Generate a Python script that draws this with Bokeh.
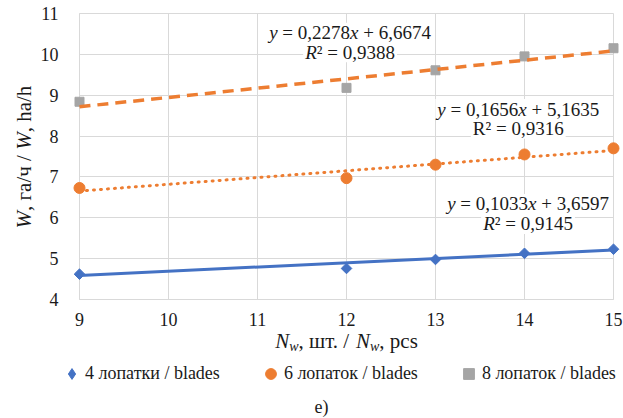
import math
from bokeh.plotting import figure
from bokeh.models import Range1d, FixedTicker, Label, Legend, LegendItem, BoxAnnotation
from bokeh.layouts import row, column
from bokeh.embed import file_html
from bokeh.resources import INLINE

# ---- data ----
x_blades = [9, 12, 13, 14, 15]
w_4 = [4.62, 4.76, 4.98, 5.13, 5.23]
w_6 = [6.73, 6.97, 7.30, 7.55, 7.70]
w_8 = [8.84, 9.18, 9.61, 9.95, 10.15]
series_names = ["4 лопатки / blades", "6 лопаток / blades", "8 лопаток / blades"]
trend_slope = [0.1033, 0.1656, 0.2278]
trend_intercept = [3.6597, 5.1635, 6.6674]
trend_r2 = [0.9145, 0.9316, 0.9388]
x_ticks = [9, 10, 11, 12, 13, 14, 15]
y_ticks = [4, 5, 6, 7, 8, 9, 10, 11]
caption = "e)"

FONT = "Liberation Serif"
TXT = "#1a1a1a"
BLUE, ORANGE, GRAY, GRID = "#4472C4", "#ED7D31", "#A5A5A5", "#D9D9D9"

TOTAL_W, TOTAL_H = 623, 418
LEFT_W = 35
MAIN_W, MAIN_H = TOTAL_W - LEFT_W, 328
BOT_H = TOTAL_H - MAIN_H
BL, BR, BT, BB = 44, 10, 13, 29
PX_X = (MAIN_W - BL - BR) / (x_ticks[-1] - x_ticks[0])
PX_Y = (MAIN_H - BT - BB) / (y_ticks[-1] - y_ticks[0])


def no_align(f):
    if "frame_align" in type(f).properties():
        f.frame_align = False
    return f


p = figure(width=MAIN_W, height=MAIN_H, output_backend="svg", toolbar_location=None,
           x_range=Range1d(x_ticks[0], x_ticks[-1]), y_range=Range1d(y_ticks[0], y_ticks[-1]),
           min_border_left=BL, min_border_right=BR, min_border_top=BT, min_border_bottom=BB)
p.background_fill_color = "white"
p.border_fill_color = "white"
p.outline_line_color = GRID
no_align(p)

p.xaxis.ticker = FixedTicker(ticks=x_ticks)
p.yaxis.ticker = FixedTicker(ticks=y_ticks)
p.xgrid.ticker = FixedTicker(ticks=x_ticks)
p.ygrid.ticker = FixedTicker(ticks=y_ticks)
p.grid.grid_line_color = GRID
for ax in (p.xaxis[0], p.yaxis[0]):
    ax.axis_line_color = GRID
    ax.major_tick_line_color = None
    ax.minor_tick_line_color = None
    ax.major_label_text_font = FONT
    ax.major_label_text_font_size = "18px"
    ax.major_label_text_color = TXT
p.xaxis[0].major_label_standoff = 7
p.yaxis[0].major_label_standoff = 15

# markers (overlay level so edge markers are not cut by the frame)
r4 = p.scatter(x_blades, w_4, marker="square", angle=math.pi / 4, size=7.5, color=BLUE, level="overlay")
r6 = p.scatter(x_blades, w_6, marker="circle", size=11, color=ORANGE, level="overlay")
r8 = p.scatter(x_blades, w_8, marker="square", size=9, color=GRAY, level="overlay")

# linear trend lines
xe = [x_blades[0], x_blades[-1]]
styles = [(BLUE, "solid", 3), (ORANGE, "1 6", 3), (ORANGE, "11 7", 3.5)]
for k, (c, d, lw) in enumerate(styles):
    ye = [trend_slope[k] * xv + trend_intercept[k] for xv in xe]
    p.line(xe, ye, line_color=c, line_dash=d, line_width=lw, level="overlay",
           line_cap="round" if d == "1 6" else "butt")

# ---- text helper (Times-compatible advance widths, em) ----
UP = {' ': .25, ',': .25, '.': .25, '/': .278, '=': .564, '+': .564, '²': .3, 'R': .667,
      'a': .444, 'b': .5, 'c': .444, 'd': .5, 'e': .444, 'h': .5, 'l': .278, 'p': .5,
      's': .389, 'x': .5, 'y': .5, 'г': .41, 'а': .444, 'ч': .503, 'ш': .77, 'т': .437}
for dg in "0123456789":
    UP[dg] = .5
IT = {'W': .833, 'N': .667, 'w': .667, 'x': .444, 'y': .444, 'R': .611}


def tw(s, size, italic):
    tab = IT if italic else UP
    return sum(tab.get(ch, UP.get(ch, .5)) for ch in s) * size


def add_runs(fig, x, y, runs, align="center", vertical=False, off=0.0):
    total = sum(tw(t, s, it) for t, it, s, sh in runs)
    cur = -total / 2 if align == "center" else 0.0
    for t, it, s, sh in runs:
        lead = len(t) - len(t.lstrip(" "))
        pos = cur + tw(" " * lead, s, False)
        if vertical:
            xo, yo, ang = sh, off + pos, math.pi / 2
        else:
            xo, yo, ang = pos, off - sh, 0.0
        fig.add_layout(Label(x=x, y=y, x_offset=xo, y_offset=yo, text=t.strip(" "), angle=ang,
                             text_font=FONT, text_font_size=f"{s}px",
                             text_font_style="italic" if it else "normal",
                             text_color=TXT, text_align="left", text_baseline="middle"))
        cur += tw(t, s, it)
    return total


def num(v):
    return f"{v:.4f}".replace(".", ",")


# equation labels: (x centre, y of line 1, y of line 2, italic R)
eq_pos = [(14.04, 6.34, 5.85, True), (13.93, 8.66, 8.18, False), (12.04, 10.53, 10.05, True)]
ES = 19
for k, (cx, y1, y2, itR) in enumerate(eq_pos):
    line1 = [("y", True, ES, 0), (" = " + num(trend_slope[k]), False, ES, 0), ("x", True, ES, 0),
             (" + " + num(trend_intercept[k]), False, ES, 0)]
    line2 = [("R", itR, ES, 0), ("² = " + num(trend_r2[k]), False, ES, 0)]
    for ly, runs in ((y1, line1), (y2, line2)):
        wpx = sum(tw(t, s, it) for t, it, s, sh in runs) + 4
        p.add_layout(BoxAnnotation(left=cx - wpx / 2 / PX_X, right=cx + wpx / 2 / PX_X,
                                   bottom=ly - 10 / PX_Y, top=ly + 10 / PX_Y,
                                   fill_color="white", fill_alpha=1.0, line_alpha=0))
        add_runs(p, cx, ly, runs)


def blank(w, h, x_range, y_range, top=0, bottom=0):
    f = figure(width=w, height=h, output_backend="svg", toolbar_location=None,
               x_range=x_range, y_range=y_range, x_axis_type=None, y_axis_type=None,
               min_border=0, min_border_top=top, min_border_bottom=bottom)
    f.outline_line_color = None
    f.background_fill_color = "white"
    f.border_fill_color = "white"
    return no_align(f)


TS = 21
# y-axis title: left strip sharing the y range of the chart
p_left = blank(LEFT_W, MAIN_H, Range1d(0, LEFT_W), p.y_range, top=BT, bottom=BB)
add_runs(p_left, 23, y_ticks[0],
         [("W", True, TS, 0), (", га/ч / ", False, TS, 0), ("W", True, TS, 0), (", ha/h", False, TS, 0)],
         align="left", vertical=True, off=71)

# bottom strip (pixel coordinates, y from bottom): x-axis title, legend, caption
p_bot = blank(TOTAL_W, BOT_H, Range1d(0, TOTAL_W), Range1d(0, BOT_H))
add_runs(p_bot, 346, 77.5,
         [("N", True, TS, 0), ("w", True, 14, 5.9), (", шт. / ", False, TS, 0),
          ("N", True, TS, 0), ("w", True, 14, 5.9), (", pcs", False, TS, 0)],
         align="center")
p_bot.add_layout(Label(x=321, y=12, text=caption, text_font=FONT, text_font_size="18px",
                       text_color=TXT, text_align="center", text_baseline="middle"))

nan = float("nan")
k4 = p_bot.scatter([nan], [nan], marker="diamond", size=14, color=BLUE)
k6 = p_bot.scatter([nan], [nan], marker="circle", size=11, color=ORANGE)
k8 = p_bot.scatter([nan], [nan], marker="square", size=9, color=GRAY)
legend = Legend(items=[LegendItem(label=series_names[0], renderers=[k4]),
                       LegendItem(label=series_names[1], renderers=[k6]),
                       LegendItem(label=series_names[2], renderers=[k8])],
                orientation="horizontal", location=(58, 31), border_line_color=None,
                background_fill_alpha=0, padding=0, margin=0, spacing=37,
                glyph_width=27, glyph_height=27, label_standoff=0, label_height=20,
                label_text_font=FONT, label_text_font_size="18px", label_text_color=TXT)
p_bot.add_layout(legend)

layout = column(row(p_left, p), p_bot)
open("out.html", "w").write(file_html(layout, INLINE))
